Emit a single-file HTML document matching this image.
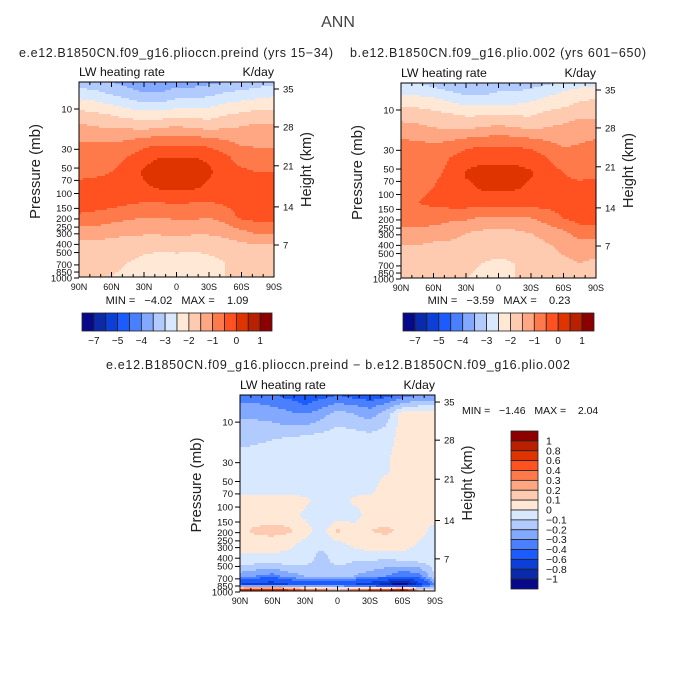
<!DOCTYPE html>
<html><head><meta charset="utf-8">
<style>
html,body{margin:0;padding:0;background:#fff}
svg{display:block;font-family:"Liberation Sans",sans-serif}
</style></head>
<body>
<svg id="fig" width="675" height="674" viewBox="0 0 675 674" xmlns="http://www.w3.org/2000/svg">
<rect width="675" height="674" fill="#fff"/>
<text x="338" y="27" font-size="16" text-anchor="middle" fill="#444">ANN</text>
</svg>
<script>
// ---------- data ----------
const latLabels = ['90N','60N','30N','0','30S','60S','90S'];
const lats = [90,75,60,45,30,15,0,-15,-30,-45,-60,-75,-90];
const pressTicks = [10,30,50,70,100,150,200,250,300,400,500,700,850,1000];
const heightTicks = ['35','28','21','14','7'];
const heightTickP = [5.8,16.3,47,144,407];
const levelsTop = [5,6,8,11,16,25,37,56,84,126,190,285,430,650,1000];
const levels3 = [5,6,8,11,16,25,37,56,84,126,190,285,430,650,810,1000];
const thrTop = [-7,-6,-5,-4.5,-4,-3.5,-3,-2.5,-2,-1.5,-1,-0.5,0,0.5,1];
const thrDiff = [-1,-0.8,-0.6,-0.4,-0.3,-0.2,-0.1,0,0.1,0.2,0.3,0.4,0.6,0.8,1];
const topLabelIdx = [0,2,4,6,8,10,12,14];
const topLabels = ['\u22127','\u22125','\u22124','\u22123','\u22122','\u22121','0','1'];
const diffLabels = ['1','0.8','0.6','0.4','0.3','0.2','0.1','0','\u22120.1','\u22120.2','\u22120.3','\u22120.4','\u22120.6','\u22120.8','\u22121'];
const palette = ['#08088a','#0a2aaa','#0b3fd8','#1c5cff','#4a80ff','#82a8ff','#b2cbff','#d8e9ff','#ffe8d6','#ffcbb0','#ffa682','#ff7a4a','#ff5220','#e03400','#b82000','#8c0000'];

const field1 = [
[-3.2,-3.3,-3.5,-3.7,-3.8,-3.8,-3.7,-3.7,-3.6,-3.5,-3.3,-3.2,-3.1],
[-2.9,-3.0,-3.2,-3.4,-3.6,-3.6,-3.4,-3.4,-3.3,-3.1,-3.0,-2.9,-2.8],
[-2.4,-2.5,-2.7,-2.9,-3.1,-3.1,-2.9,-2.9,-2.8,-2.6,-2.5,-2.4,-2.3],
[-1.9,-2.0,-2.1,-2.3,-2.4,-2.4,-2.3,-2.3,-2.3,-2.1,-2.0,-1.9,-1.9],
[-1.4,-1.5,-1.6,-1.6,-1.7,-1.6,-1.5,-1.6,-1.7,-1.6,-1.5,-1.4,-1.4],
[-1.0,-1.0,-1.0,-0.9,-0.7,-0.6,-0.6,-0.6,-0.7,-0.9,-1.1,-1.1,-1.1],
[-0.8,-0.8,-0.7,-0.5,-0.2,0,0,0,-0.1,-0.4,-0.7,-0.8,-0.8],
[-0.6,-0.6,-0.5,-0.3,0.1,0.3,0.3,0.3,0.1,-0.3,-0.4,-0.5,-0.5],
[-0.4,-0.3,-0.3,-0.2,-0.1,0.1,0.1,0.1,-0.1,-0.2,-0.2,-0.3,-0.3],
[-0.2,-0.2,-0.3,-0.4,-0.5,-0.5,-0.4,-0.5,-0.5,-0.4,-0.2,-0.2,-0.2],
[-0.6,-0.7,-0.8,-0.9,-1.0,-1.0,-0.9,-0.9,-1.0,-0.8,-0.4,-0.3,-0.3],
[-1.2,-1.2,-1.3,-1.4,-1.4,-1.4,-1.4,-1.4,-1.4,-1.3,-1.1,-0.9,-0.9],
[-1.7,-1.7,-1.8,-1.8,-1.9,-1.9,-1.8,-1.9,-1.9,-1.8,-1.7,-1.6,-1.6],
[-1.8,-1.8,-1.9,-2.0,-2.1,-2.2,-2.3,-2.2,-2.1,-2.0,-1.9,-1.8,-1.8],
[-1.8,-1.9,-2.0,-2.1,-2.2,-2.3,-2.3,-2.3,-2.2,-2.0,-1.9,-1.8,-1.5]];
const field2 = [
[-2.9,-3.0,-3.2,-3.3,-3.4,-3.4,-3.3,-3.3,-3.2,-3.1,-2.9,-2.8,-2.7],
[-2.6,-2.7,-2.8,-3.0,-3.2,-3.2,-3.0,-3.0,-2.9,-2.7,-2.5,-2.3,-2.2],
[-2.2,-2.2,-2.3,-2.5,-2.7,-2.7,-2.6,-2.6,-2.5,-2.3,-2.2,-2.0,-1.9],
[-1.8,-1.8,-1.9,-2.0,-2.1,-2.1,-2.1,-2.1,-2.1,-1.9,-1.8,-1.6,-1.6],
[-1.3,-1.4,-1.5,-1.6,-1.6,-1.5,-1.4,-1.5,-1.6,-1.5,-1.4,-1.3,-1.3],
[-0.9,-0.9,-1.0,-0.9,-0.7,-0.6,-0.6,-0.6,-0.7,-0.9,-1.1,-1.0,-0.9],
[-0.8,-0.8,-0.7,-0.5,-0.2,-0.1,-0.1,-0.1,-0.2,-0.5,-0.7,-0.8,-0.8],
[-0.7,-0.6,-0.6,-0.4,0.05,0.15,0.15,0.15,0.05,-0.3,-0.5,-0.6,-0.6],
[-0.6,-0.6,-0.5,-0.3,-0.1,0.05,0.05,0.05,-0.1,-0.3,-0.4,-0.4,-0.3],
[-0.6,-0.5,-0.4,-0.3,-0.3,-0.3,-0.3,-0.3,-0.3,-0.3,-0.2,-0.2,-0.2],
[-0.8,-0.8,-0.8,-0.9,-0.9,-1.1,-1.1,-1.1,-1.0,-0.8,-0.5,-0.3,-0.3],
[-1.1,-1.1,-1.2,-1.3,-1.5,-1.6,-1.6,-1.6,-1.5,-1.3,-1.1,-0.8,-0.8],
[-1.6,-1.6,-1.7,-1.7,-1.8,-1.8,-1.8,-1.8,-1.8,-1.6,-1.4,-1.3,-1.3],
[-1.7,-1.7,-1.8,-1.8,-1.9,-2.0,-2.1,-2.0,-1.9,-1.7,-1.6,-1.5,-1.6],
[-1.8,-1.8,-1.9,-1.9,-2.0,-2.1,-2.1,-2.0,-1.9,-1.8,-1.8,-1.6,-1.6]];
const field3 = [
[-0.35,-0.35,-0.38,-0.45,-0.5,-0.45,-0.4,-0.45,-0.5,-0.45,-0.35,-0.3,-0.3],
[-0.3,-0.3,-0.32,-0.35,-0.42,-0.35,-0.3,-0.32,-0.35,-0.3,-0.2,-0.15,-0.15],
[-0.25,-0.25,-0.25,-0.28,-0.3,-0.25,-0.15,-0.2,-0.25,-0.15,0.05,0.05,0.05],
[-0.15,-0.15,-0.18,-0.2,-0.2,-0.15,-0.1,-0.12,-0.15,-0.1,0.05,0.05,0.05],
[-0.15,-0.12,-0.1,-0.08,-0.06,-0.05,-0.05,-0.05,-0.05,-0.05,0.05,0.05,0.05],
[-0.05,-0.05,-0.05,-0.05,-0.05,-0.05,-0.05,-0.05,-0.05,-0.02,0.05,0.05,0.05],
[-0.05,-0.05,-0.05,-0.05,-0.05,-0.05,-0.05,-0.05,-0.05,-0.02,0.05,0.05,0.05],
[-0.05,-0.05,-0.05,-0.05,-0.05,-0.05,-0.05,-0.05,-0.05,0.05,0.05,0.05,0.05],
[0.03,0.03,0.03,0.03,0.02,-0.03,-0.05,0.02,0.03,0.05,0.05,0.05,0.05],
[0.05,0.05,0.05,0.05,-0.02,-0.1,-0.05,-0.05,0.05,0.05,0.05,0.05,0.05],
[0.08,0.12,0.13,0.12,0.05,-0.05,0.12,0.05,0.1,0.12,0.08,0.05,-0.05],
[0.05,0.05,0.05,0.02,-0.05,-0.08,-0.05,0.02,0.05,0.05,0.05,-0.02,-0.05],
[-0.05,-0.05,-0.05,-0.05,-0.05,-0.15,-0.05,-0.1,-0.1,-0.12,-0.1,-0.08,-0.05],
[-0.25,-0.3,-0.35,-0.25,-0.2,-0.2,-0.2,-0.2,-0.25,-0.3,-0.4,-0.35,-0.1],
[-0.6,-0.7,-0.7,-0.6,-0.5,-0.5,-0.5,-0.6,-0.7,-0.9,-1.2,-0.7,-0.3],
[0.8,1.0,1.0,0.8,0.5,0.5,0.3,0.5,0.6,0.8,1.2,0.3,0]];

// ---------- drawing ----------
const NS='http://www.w3.org/2000/svg';
const svg=document.getElementById('fig');
function mk(tag,attrs,parent){const e=document.createElementNS(NS,tag);for(const k in attrs)e.setAttribute(k,attrs[k]);(parent||svg).appendChild(e);return e;}
function txt(x,y,s,size,anchor,parent,extra){const t=mk('text',Object.assign({x:x,y:y,'font-size':size,'text-anchor':anchor||'start',fill:'#111'},extra||{}),parent);t.textContent=s;return t;}
function cls(v,thr){let c=0;while(c<thr.length&&v>=thr[c])c++;return c;}

function panel(opt){
  const g=mk('g',{});
  
  
  const X=opt.x,Y=opt.y,W=opt.w,H=opt.h;
  const decade=H*84.5/195, y10=H*27/195;
  const yOf=p=>Y+y10+decade*Math.log10(p/10);
  const xOf=lat=>X+W*(90-lat)/180;
  const data=opt.field, levs=opt.levels;
  const rowY=levs.map((p,i)=>i===0?Y:(i===levs.length-1?Y+H:yOf(p)));
  const colX=lats.map(xOf);
  function val(px,py){
    let i=0;while(i<rowY.length-2&&py>rowY[i+1])i++;
    let j=0;while(j<colX.length-2&&px>colX[j+1])j++;
    const ty=Math.max(0,Math.min(1,(py-rowY[i])/(rowY[i+1]-rowY[i])));
    const tx=Math.max(0,Math.min(1,(px-colX[j])/(colX[j+1]-colX[j])));
    const a=data[i][j],b=data[i][j+1],c=data[i+1][j],d=data[i+1][j+1];
    return (a*(1-tx)+b*tx)*(1-ty)+(c*(1-tx)+d*tx)*ty;
  }
  const cell=2;
  const cg=mk('g',{'shape-rendering':'crispEdges'},g);
  
  
  for(let yy=0;yy<H;yy+=cell){
    const h=Math.min(cell,H-yy);
    let runStart=0,runC=-1;
    const flush=(end)=>{if(runC>=0)mk('rect',{x:X+runStart,y:Y+yy,width:end-runStart,height:h+0.4,fill:palette[runC]},cg);};
    for(let xx=0;xx<W;xx+=cell){
      const c=cls(val(X+xx+cell/2,Y+yy+h/2),opt.thr);
      if(c!==runC){flush(xx);runStart=xx;runC=c;}
    }
    flush(W);
  }
  mk('rect',{x:X,y:Y,width:W,height:H,fill:'none',stroke:'#000','stroke-width':1},g);
  txt(X,Y-6,'LW heating rate',12.3,'start',g);
  txt(X+W,Y-6,'K/day',12.3,'end',g);
  pressTicks.forEach(p=>{const y=yOf(p);mk('line',{x1:X-5,x2:X,y1:y,y2:y,stroke:'#000'},g);
    const t=txt(X-7,y+3.3,String(p),9.5,'end',g);});
  heightTickP.forEach((p,i)=>{const y=yOf(p);mk('line',{x1:X+W,x2:X+W+5,y1:y,y2:y,stroke:'#000'},g);
    txt(X+W+9,y+3.5,heightTicks[i],9.5,'start',g);});
  for(let k=0;k<=18;k++){const x=X+W*k/18;mk('line',{x1:x,x2:x,y1:Y,y2:Y+(k%3===0?5:3),stroke:'#000'},g);
    mk('line',{x1:x,x2:x,y1:Y+H,y2:Y+H-(k%3===0?5:3),stroke:'#000'},g);}
  latLabels.forEach((s,i)=>{const t=txt(X+W*i/6,Y+H+13,s,9,'middle',g);});
  const yl=txt(0,0,'Pressure (mb)',15,'middle',g,{transform:`translate(${X-39},${Y+H/2-8}) rotate(-90)`,fill:'#222'});
  
  const yr=txt(0,0,'Height (km)',14.5,'middle',g,{transform:`translate(${X+W+37},${Y+H/2-10}) rotate(-90)`,fill:'#222'});
  
  return g;
}

panel({name:'panel-preind',x:79,y:82,w:195,h:195,field:field1,levels:levelsTop,thr:thrTop});
panel({name:'panel-plio',x:401,y:83,w:195,h:195,field:field2,levels:levelsTop,thr:thrTop});
panel({name:'panel-difference',x:240,y:395,w:195,h:196,field:field3,levels:levels3,thr:thrDiff});

let t;
t=txt(176,57,'e.e12.B1850CN.f09_g16.plioccn.preind (yrs 15\u221234)',12.5,'middle',null,{textLength:314,fill:'#222'});

t=txt(498,57,'b.e12.B1850CN.f09_g16.plio.002 (yrs 601\u2212650)',12.5,'middle',null,{textLength:296,fill:'#222'});

t=txt(338,369,'e.e12.B1850CN.f09_g16.plioccn.preind \u2212 b.e12.B1850CN.f09_g16.plio.002',12.5,'middle',null,{textLength:464,fill:'#222'});


const S='\u00a0';
t=txt(177,304,'MIN ='+S+S+S+'\u22124.02'+S+S+S+'MAX ='+S+S+S+S+'1.09',11,'middle');

t=txt(499,304,'MIN ='+S+S+S+'\u22123.59'+S+S+S+'MAX ='+S+S+S+S+'0.23',11,'middle');

t=txt(462,414,'MIN ='+S+S+S+'\u22121.46'+S+S+S+'MAX ='+S+S+S+S+'2.04',10.5,'start');


function hbar(x0,x1,y0,y1,name){
  const g=mk('g',{});
  
  
  const n=palette.length,w=(x1-x0)/n;
  palette.forEach((c,i)=>{const r=mk('rect',{x:x0+i*w,y:y0,width:w,height:y1-y0,fill:c,stroke:'#222','stroke-width':0.8},g);
    });
  topLabelIdx.forEach((k,i)=>{txt(x0+(k+1)*w,y1+13,topLabels[i],10,'middle',g);});
}
hbar(82,272,313,331,'colorbar-top-left');
hbar(403,594,313,331,'colorbar-top-right');
(function(){
  const g=mk('g',{});
  
  
  const x0=511,x1=538,y0=431,y1=589,n=palette.length,h=(y1-y0)/n;
  for(let i=0;i<n;i++){const r=mk('rect',{x:x0,y:y0+i*h,width:x1-x0,height:h,fill:palette[n-1-i],stroke:'#222','stroke-width':0.8},g);
    }
  diffLabels.forEach((s,i)=>{txt(546,y0+(i+1)*h+3.5,s,10.5,'start',g);});
})();
</script>
</body></html>
